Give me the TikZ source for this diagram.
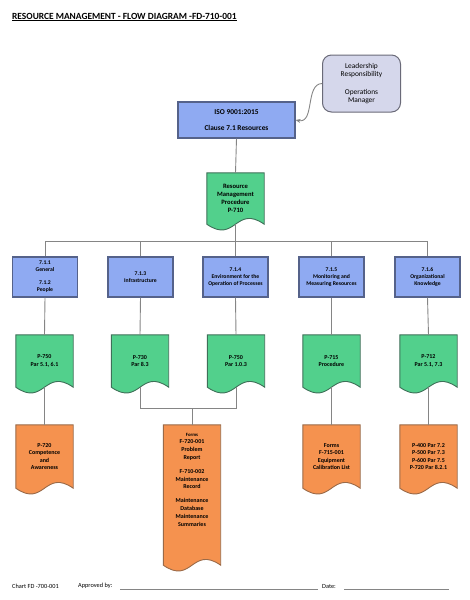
\documentclass[tikz,border=0pt]{standalone}
\usepackage{fontspec}
\setmainfont{Carlito}
\usetikzlibrary{calc,backgrounds,arrows.meta}
\definecolor{boxblue}{HTML}{8FAAF2}
\definecolor{blueedge}{HTML}{55628A}
\definecolor{docgreen}{HTML}{52D08C}
\definecolor{greenedge}{HTML}{3E7058}
\definecolor{docorange}{HTML}{F5924F}
\definecolor{orangeedge}{HTML}{9A6A48}
\definecolor{leadfill}{HTML}{D5D7EB}
\definecolor{leadedge}{HTML}{6A6A78}
\definecolor{conn}{HTML}{858585}
\newcommand\docwave[2]{%
  \begin{scope}[on background layer]
    \draw[#2] (#1.north west) -- (#1.north east) -- (#1.south east)
      .. controls ($(#1.south)+(0,-20)$) and ($(#1.south)+(0,20)$) .. (#1.south west) -- cycle;
  \end{scope}}
\tikzset{
  every node/.style={align=center, inner sep=0pt},
  bluebox/.style={draw=blueedge, fill=boxblue, line width=1.1pt, minimum width=65pt, minimum height=40pt,
    font=\fontsize{5.7}{7}\selectfont\bfseries},
  docnode/.style={minimum width=57pt, minimum height=52pt, font=\fontsize{6}{7.6}\selectfont\bfseries},
  greenfill/.style={draw=greenedge, fill=docgreen, line width=0.9pt},
  orangefill/.style={draw=orangeedge, fill=docorange, line width=0.9pt},
  connector/.style={draw=conn, line width=0.9pt},
  footline/.style={draw=conn, line width=0.8pt},
}
\begin{document}
\begin{tikzpicture}[x=1pt,y=-1pt]
\useasboundingbox (0,0) rectangle (470,600);
% title
\node[anchor=west, font=\fontsize{9.4}{10}\selectfont\bfseries] (title) at (12,17)
  {\underline{RESOURCE MANAGEMENT - FLOW DIAGRAM -FD-710-001}};
% top boxes
\node[draw=leadedge, fill=leadfill, line width=1pt, rounded corners=9pt, minimum width=78pt, minimum height=57pt,
  font=\fontsize{7.4}{8.6}\selectfont] (lead) at (361.5,83.5)
  {Leadership\\Responsibility\\[8.6pt]Operations\\Manager};
\node[draw=blueedge, fill=boxblue, line width=1.1pt, minimum width=117pt, minimum height=36pt,
  font=\fontsize{7.4}{9}\selectfont\bfseries] (iso) at (236.5,120)
  {ISO 9001:2015\\[7pt]Clause 7.1 Resources};
\draw[connector, -{Stealth[length=5pt,width=4pt]}] (lead.west) .. controls (305,84) and (315,124) .. (iso.east);
% procedure
\node[docnode, minimum width=57pt, minimum height=51pt, font=\fontsize{6.6}{7.8}\selectfont\bfseries] (rmp) at (235.5,198.5)
  {Resource\\Management\\Procedure\\P-710};
\docwave{rmp}{greenfill}
\draw[connector] (iso.south) -- (rmp.north);
% bus
\coordinate (bus) at (0,241);
\node[bluebox] (b1) at (45,277) {7.1.1\\General\\[6pt]7.1.2\\People};
\node[bluebox] (b2) at (140.5,277) {7.1.3\\Infrastructure};
\node[bluebox] (b3) at (235.5,277) {7.1.4\\Environment for the\\Operation of Processes};
\node[bluebox] (b4) at (331.5,277) {7.1.5\\Monitoring and\\Measuring Resources};
\node[bluebox] (b5) at (427.5,277) {7.1.6\\Organizational\\Knowledge};
\draw[connector] (rmp.south) -- (rmp.south |- bus);
\draw[connector] (b1.north |- bus) -- (b5.north |- bus);
\foreach \b in {b1,b2,b3,b4,b5}{\draw[connector] (\b.north |- bus) -- (\b.north);}
% green docs
\node[docnode] (g1) at (44.5,361) {P-750\\Par 5.1, 6.1};
\node[docnode] (g2) at (140,361) {P-730\\Par 8.3};
\node[docnode] (g3) at (236,361) {P-750\\Par 1.0.3};
\node[docnode] (g4) at (331.5,361) {P-715\\Procedure};
\node[docnode] (g5) at (428.5,361) {P-712\\Par 5.1, 7.3};
\foreach \g in {g1,g2,g3,g4,g5}{\docwave{\g}{greenfill}}
\draw[connector] (b1.south) -- (g1.north);
\draw[connector] (b2.south) -- (g2.north);
\draw[connector] (b3.south) -- (g3.north);
\draw[connector] (b4.south) -- (g4.north);
\draw[connector] (b5.south) -- (g5.north);
% orange docs
\node[docnode, minimum height=63pt] (o1) at (44.5,456.5) {P-720\\Competence\\and\\Awareness};
\node[docnode, minimum height=140pt] (o2) at (192,495) {};
\node[anchor=north, font=\fontsize{6}{7.8}\selectfont\bfseries] (o2t) at ($(o2.north)+(0,8)$)
  {{\fontsize{4.8}{7.8}\selectfont Forms}\\F-720-001\\Problem\\Report\\[6pt]F-710-002\\Maintenance\\Record\\[6pt]Maintenance\\Database\\Maintenance\\Summaries};
\node[docnode, minimum height=63pt] (o3) at (331.5,456.5) {Forms\\F-715-001\\Equipment\\Calibration List};
\node[docnode, minimum height=63pt] (o4) at (428.5,456.5) {P-400 Par 7.2\\P-500 Par 7.3\\P-600 Par 7.5\\P-720 Par 8.2.1};
\foreach \o in {o1,o2,o3,o4}{\docwave{\o}{orangefill}}
\draw[connector] (g1.south) -- (o1.north);
\coordinate (join) at (0,408);
\draw[connector] (g2.south) -- (g2.south |- join) -- (g3.south |- join) -- (g3.south);
\draw[connector] (o2.north |- join) -- (o2.north);
\draw[connector] (g4.south) -- (o3.north);
\draw[connector] (g5.south) -- (o4.north);
% footer
\node[anchor=west, font=\fontsize{6.3}{7}\selectfont] (chart) at (12,586) {Chart FD -700-001};
\node[anchor=west, font=\fontsize{6.3}{7}\selectfont] (appr) at (78,586) {Approved by:};
\coordinate (l1a) at (120,589);
\coordinate (l1b) at (318,589);
\draw[footline] (l1a) -- (l1b);
\node[anchor=west, font=\fontsize{6.3}{7}\selectfont] (date) at (322,586) {Date:};
\coordinate (l2a) at (344,589);
\coordinate (l2b) at (449,589);
\draw[footline] (l2a) -- (l2b);
\end{tikzpicture}
\end{document}
